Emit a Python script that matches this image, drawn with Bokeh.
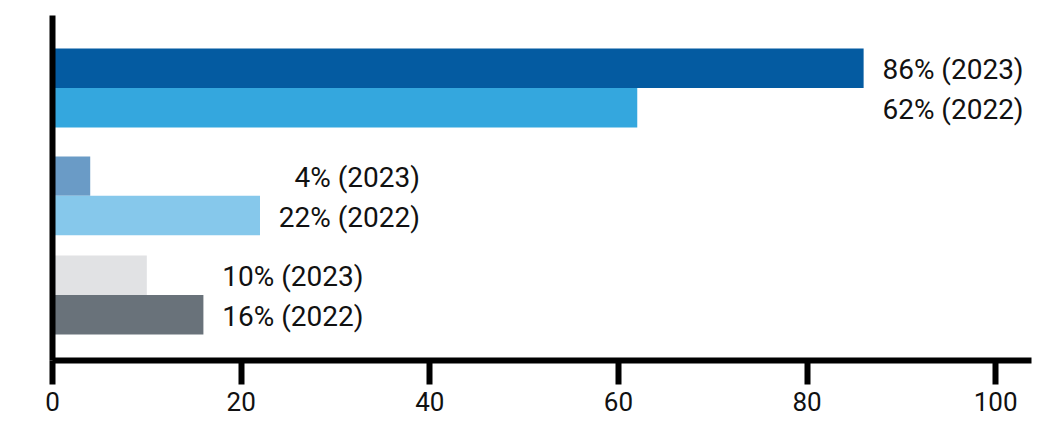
from bokeh.plotting import figure
from bokeh.models import Range1d, ColumnDataSource, LinearAxis, FixedTicker
from bokeh.embed import file_html
from bokeh.resources import INLINE
from bokeh.core.properties import value

# ---- data ----
years = ["2023", "2022"]
values_2023 = [86, 4, 10]
values_2022 = [62, 22, 16]
colors_2023 = ["#045BA1", "#6A9BC6", "#E1E2E4"]
colors_2022 = ["#34A7DE", "#86C8EB", "#69727A"]
x_ticks = [0, 20, 40, 60, 80, 100]

# ---- layout ----
group_centers = [87.5, 195.3, 294.5]   # vertical positions (screen-like units)
bar_h = 39.4
FONT = "Roboto"

p = figure(width=1041, height=422, output_backend="svg", toolbar_location=None,
           x_range=Range1d(0, 103.8), y_range=Range1d(360, 15),
           x_axis_location=None, y_axis_location=None,
           min_border_left=52, min_border_right=10, min_border_top=15, min_border_bottom=62)
p.outline_line_color = None
p.xgrid.visible = False
p.ygrid.visible = False
p.background_fill_color = "white"
p.border_fill_color = "white"

ys23 = [c - bar_h / 2 for c in group_centers]
ys22 = [c + bar_h / 2 for c in group_centers]

src = ColumnDataSource(dict(
    y=ys23 + ys22,
    right=values_2023 + values_2022,
    color=colors_2023 + colors_2022,
))
p.hbar(y="y", left=0, right="right", height=bar_h, fill_color="color", line_color=None, source=src)

# labels: right aligned block after the longer bar
lab_x, lab_y, lab_t = [], [], []
for i in range(len(group_centers)):
    m = max(values_2023[i], values_2022[i])
    lab_x += [m, m]
    lab_y += [ys23[i] + 1, ys22[i] + 2]
    lab_t += [f"{values_2023[i]}% ({years[0]})", f"{values_2022[i]}% ({years[1]})"]
p.text(x=lab_x, y=lab_y, text=lab_t, x_offset=160, text_align="right", text_baseline="middle",
       text_font=value(FONT), text_font_size="28px", text_color="#111111")

# axes
xa = LinearAxis(ticker=FixedTicker(ticks=x_ticks))
xa.axis_line_width = 6
xa.axis_line_color = "black"
xa.major_tick_line_width = 6
xa.major_tick_line_color = "black"
xa.major_tick_out = 24
xa.major_tick_in = 0
xa.minor_tick_line_color = None
xa.major_label_text_font = FONT
xa.major_label_text_font_size = "26px"
xa.major_label_text_color = "#111111"
xa.major_label_standoff = 7
p.add_layout(xa, "below")

ya = LinearAxis(ticker=FixedTicker(ticks=[]))
ya.axis_line_width = 6
ya.axis_line_color = "black"
ya.major_tick_line_color = None
ya.minor_tick_line_color = None
ya.major_label_text_font_size = "0px"
p.add_layout(ya, "left")

open("out.html", "w").write(file_html(p, INLINE))
